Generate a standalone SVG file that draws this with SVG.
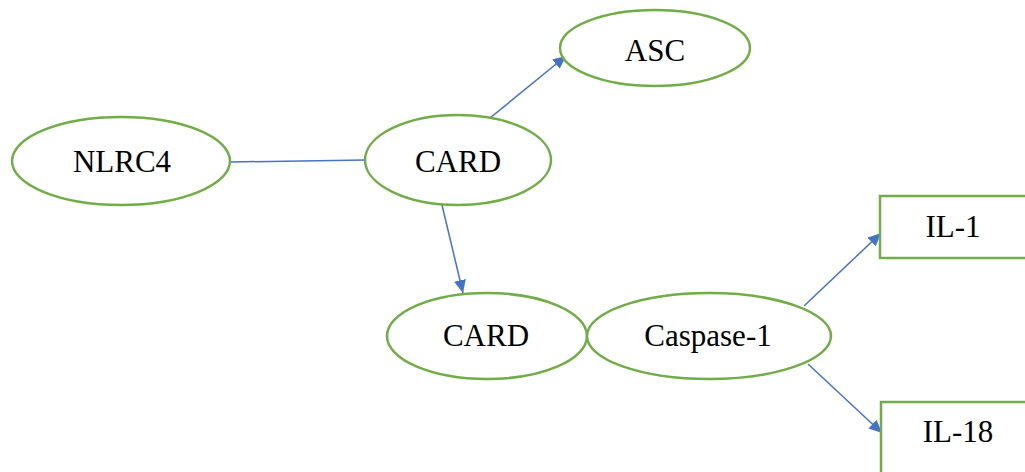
<svg xmlns="http://www.w3.org/2000/svg" width="1025" height="472" viewBox="0 0 1025 472">
<style>
.n{fill:#fff;stroke:#70AD47;stroke-width:2.5}
.t{font-family:"Liberation Serif","Times New Roman",serif;font-size:31px;fill:#000;text-anchor:middle}
.c{stroke:#4472C4;stroke-width:1.5;fill:none}
</style>
<defs>
<marker id="ah" markerUnits="userSpaceOnUse" markerWidth="14" markerHeight="12" refX="13" refY="6" orient="auto">
<path d="M0,0 L13,6 L0,12 Z" fill="#4472C4"/>
</marker>
</defs>
<rect width="1025" height="472" fill="#fff"/>
<g id="connectors">
<line class="c" x1="230" y1="162" x2="365" y2="160"/>
<line class="c" x1="490" y1="118" x2="566" y2="56" marker-end="url(#ah)"/>
<line class="c" x1="442" y1="205" x2="463" y2="293" marker-end="url(#ah)"/>
<line class="c" x1="804" y1="306" x2="881" y2="233" marker-end="url(#ah)"/>
<line class="c" x1="808" y1="364" x2="882" y2="433" marker-end="url(#ah)"/>
</g>
<g id="nlrc4"><ellipse class="n" cx="121" cy="161" rx="109" ry="44"/><text class="t" x="122" y="172">NLRC4</text></g>
<g id="card1"><ellipse class="n" cx="458" cy="160" rx="93" ry="45"/><text class="t" x="458" y="172">CARD</text></g>
<g id="asc"><ellipse class="n" cx="655" cy="48" rx="95" ry="38"/><text class="t" x="655" y="61">ASC</text></g>
<g id="card2"><ellipse class="n" cx="487" cy="336" rx="100" ry="43"/><text class="t" x="486" y="346">CARD</text></g>
<g id="caspase1"><ellipse class="n" cx="709" cy="336" rx="122" ry="43"/><text class="t" x="708" y="346">Caspase-1</text></g>
<g id="il1"><rect class="n" x="880" y="196" width="160" height="62"/><text class="t" x="953" y="237">IL-1</text></g>
<g id="il18"><rect class="n" x="881" y="402" width="160" height="90"/><text class="t" x="958" y="442">IL-18</text></g>
</svg>
